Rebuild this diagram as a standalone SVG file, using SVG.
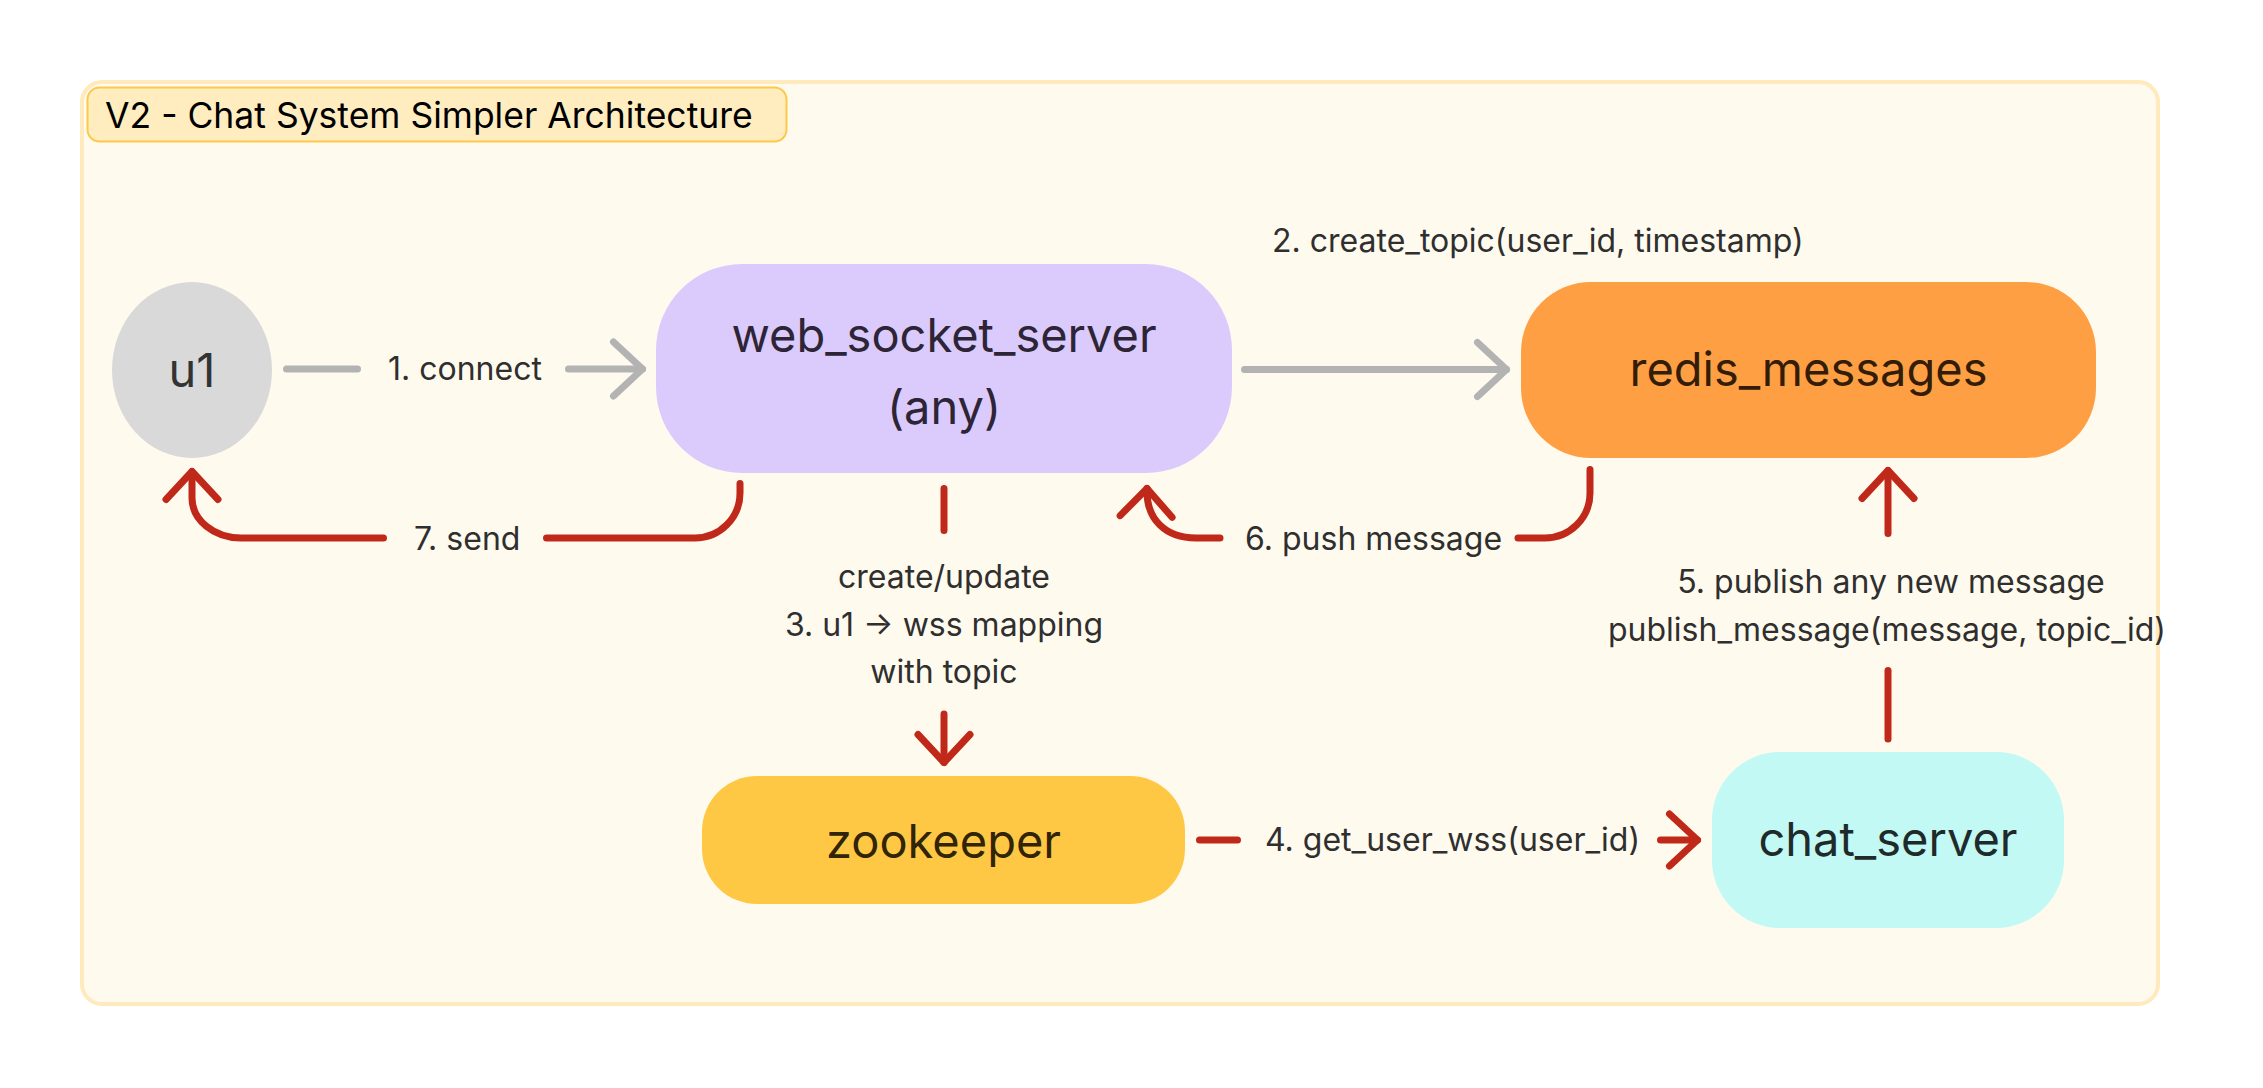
<svg xmlns="http://www.w3.org/2000/svg" width="2263" height="1088" viewBox="0 0 2263 1088">
<defs>
<style>
.lbl{font-family:Inter,"Noto Sans","Liberation Sans",sans-serif;font-size:32px;fill:#2f2f2f}
.mid{text-anchor:middle}
.nt{font-family:Inter,"Noto Sans","Liberation Sans",sans-serif;font-size:47px;text-anchor:middle}
.gray{fill:none;stroke:#b3b3b3;stroke-width:7;stroke-linecap:round;stroke-linejoin:round}
.red{fill:none;stroke:#c0291a;stroke-width:7;stroke-linecap:round;stroke-linejoin:round}
</style>
<marker id="ag" markerUnits="userSpaceOnUse" viewBox="-40 -40 50 80" refX="0" refY="0" markerWidth="50" markerHeight="80" orient="auto" overflow="visible">
<path d="M-29,-27 L0,0 L-29,27" fill="none" stroke="#b3b3b3" stroke-width="7" stroke-linecap="round" stroke-linejoin="round"/>
</marker>
<marker id="ar" markerUnits="userSpaceOnUse" viewBox="-40 -40 50 80" refX="0" refY="0" markerWidth="50" markerHeight="80" orient="auto" overflow="visible">
<path d="M-28,-26 L0,0 L-28,26" fill="none" stroke="#c0291a" stroke-width="7" stroke-linecap="round" stroke-linejoin="round"/>
</marker>
</defs>
<rect width="2263" height="1088" fill="#ffffff"/>
<g id="container">
<rect x="82" y="82" width="2076" height="922" rx="20" fill="#fffaee" stroke="#feeabc" stroke-width="4"/>
<rect x="87.5" y="87.5" width="699" height="54" rx="12" fill="#ffedc0" stroke="#fcc94a" stroke-width="2"/>
<text x="105" y="128" font-family="Inter,'Noto Sans','Liberation Sans',sans-serif" font-size="35.5" fill="#000000">V2 - Chat System Simpler Architecture</text>
</g>
<g id="connectors">
<g id="c1">
<path class="gray" d="M286.5,369 H357.5"/>
<path class="gray" d="M568.5,369 H642.5" marker-end="url(#ag)"/>
<text class="lbl" x="388" y="380">1. connect</text>
</g>
<g id="c2">
<path class="gray" d="M1244.5,369.5 H1506.5" marker-end="url(#ag)"/>
<text class="lbl" x="1272" y="252">2. create_topic(user_id, timestamp)</text>
</g>
<g id="c3">
<path class="red" d="M944,488.5 V530.5"/>
<path class="red" d="M944,714 V762.5" marker-end="url(#ar)"/>
<text class="lbl mid" x="944" y="588">create/update</text>
<text class="lbl mid" x="944" y="636">3. u1 → wss mapping</text>
<text class="lbl mid" x="944" y="683">with topic</text>
</g>
<g id="c4">
<path class="red" d="M1199.5,840 H1237.5"/>
<path class="red" d="M1660.5,840 H1697.5" marker-end="url(#ar)"/>
<text class="lbl" x="1265" y="851">4. get_user_wss(user_id)</text>
</g>
<g id="c5">
<path class="red" d="M1888,739 V670.5"/>
<path class="red" d="M1888,533.5 V470.5" marker-end="url(#ar)"/>
<text class="lbl mid" x="1891" y="593">5. publish any new message</text>
<text class="lbl mid" x="1887" y="641">publish_message(message, topic_id)</text>
</g>
<g id="c6">
<path class="red" d="M1590,469.5 V493 A45,45 0 0 1 1545,538 H1518"/>
<path class="red" d="M1220,538 H1196 C1166,538 1146,520 1147,488.5" marker-end="url(#ar)"/>
<text class="lbl" x="1245" y="550">6. push message</text>
</g>
<g id="c7">
<path class="red" d="M740,483.5 V493 A45,45 0 0 1 695,538 H546.5"/>
<path class="red" d="M383.5,538 H241 A49,40 0 0 1 192,498 V471.5" marker-end="url(#ar)"/>
<text class="lbl" x="414" y="550">7. send</text>
</g>
</g>
<g id="u1">
<ellipse cx="192" cy="370" rx="80" ry="88" fill="#d9d9d9"/>
<text class="nt" x="192" y="387" fill="#333333">u1</text>
</g>
<g id="web_socket_server">
<rect x="656" y="264" width="576" height="209" rx="86" fill="#dbcbfd"/>
<text class="nt" x="944" y="352" fill="#2d2536">web_socket_server</text>
<text class="nt" x="944" y="424" fill="#2d2536">(any)</text>
</g>
<g id="redis_messages">
<rect x="1521" y="282" width="575" height="176" rx="70" fill="#ff9f43"/>
<text class="nt" x="1808.5" y="386" fill="#331d08">redis_messages</text>
</g>
<g id="zookeeper">
<rect x="702" y="776" width="483" height="128" rx="55" fill="#ffc844"/>
<text class="nt" x="943.5" y="858" fill="#312407">zookeeper</text>
</g>
<g id="chat_server">
<rect x="1712" y="752" width="352" height="176" rx="68" fill="#c3f9f4"/>
<text class="nt" x="1888" y="856" fill="#1e2b2a">chat_server</text>
</g>
</svg>
